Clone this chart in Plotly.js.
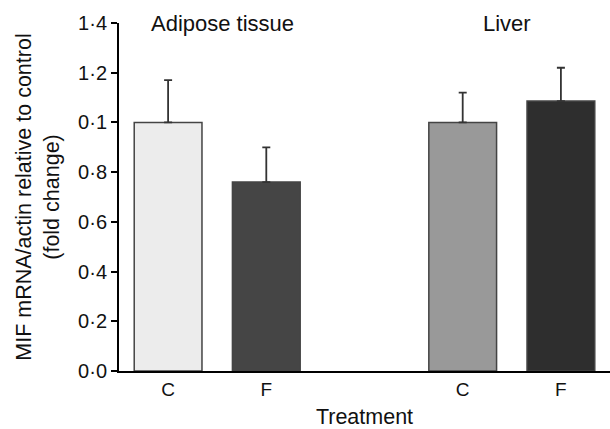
<!DOCTYPE html>
<html>
<head>
<meta charset="utf-8">
<script src="https://cdn.plot.ly/plotly-3.0.1.min.js"></script>
<style>html,body{margin:0;padding:0;background:#fff}#chart{width:610px;height:429px}</style>
</head>
<body>
<div id="chart"></div>
<script>
const positions = [0, 1, 3, 4];
const tickLabels = ["C", "F", "C", "F"];
const values = [1.0, 0.76, 1.0, 1.086];
const errorsUp = [0.17, 0.14, 0.12, 0.134];
const groupNames = ["Adipose tissue", "Liver"];
const groupCenters = [0.55, 3.45];
const yTickVals = [0, 0.2, 0.4, 0.6, 0.8, 1.0, 1.2, 1.4];
const yTickText = ["0·0", "0·2", "0·4", "0·6", "0·8", "0·1", "1·2", "1·4"];
const barColors = ["#ececec", "#454545", "#999999", "#2e2e2e"];

const fam = "Liberation Sans, Arial, sans-serif";
const tickFont = {family: fam, size: 20, color: "#111"};
const textFont = {family: fam, size: 21.5, color: "#111"};
const groupFont = {family: fam, size: 22, color: "#111"};

const trace = {
  type: "bar",
  x: positions,
  y: values,
  width: 0.69,
  marker: {color: barColors, line: {color: "#444", width: 1.5}},
  error_y: {type: "data", symmetric: false, array: errorsUp, arrayminus: values.map(() => 0),
            color: "#333", thickness: 1.8, width: 4},
  hoverinfo: "none"
};

const layout = {
  width: 610, height: 429,
  margin: {l: 119, r: 0, t: 23, b: 58},
  paper_bgcolor: "#fff", plot_bgcolor: "#fff",
  font: textFont,
  showlegend: false,
  xaxis: {
    range: [-0.5, 4.5], tickvals: positions, ticktext: tickLabels,
    showline: true, linecolor: "#000", linewidth: 2, ticks: "", showgrid: false, zeroline: false,
    tickfont: {family: fam, size: 19, color: "#111"},
    title: {text: "Treatment", font: textFont, standoff: 13}
  },
  yaxis: {
    range: [0, 1.4], tickvals: yTickVals, ticktext: yTickText,
    showline: true, linecolor: "#000", linewidth: 2, ticks: "outside", ticklen: 6, tickwidth: 2, tickcolor: "#000",
    showgrid: false, zeroline: false, tickfont: tickFont,
    title: {text: "MIF mRNA/actin relative to control<br>(fold change)", font: textFont, standoff: 13}
  },
  annotations: groupNames.map((g, i) => ({
    x: groupCenters[i], y: 1.396, xref: "x", yref: "y", text: g, showarrow: false,
    font: groupFont, xanchor: "center", yanchor: "middle"
  }))
};

Plotly.newPlot("chart", [trace], layout, {displayModeBar: false, staticPlot: true});
</script>
</body>
</html>
